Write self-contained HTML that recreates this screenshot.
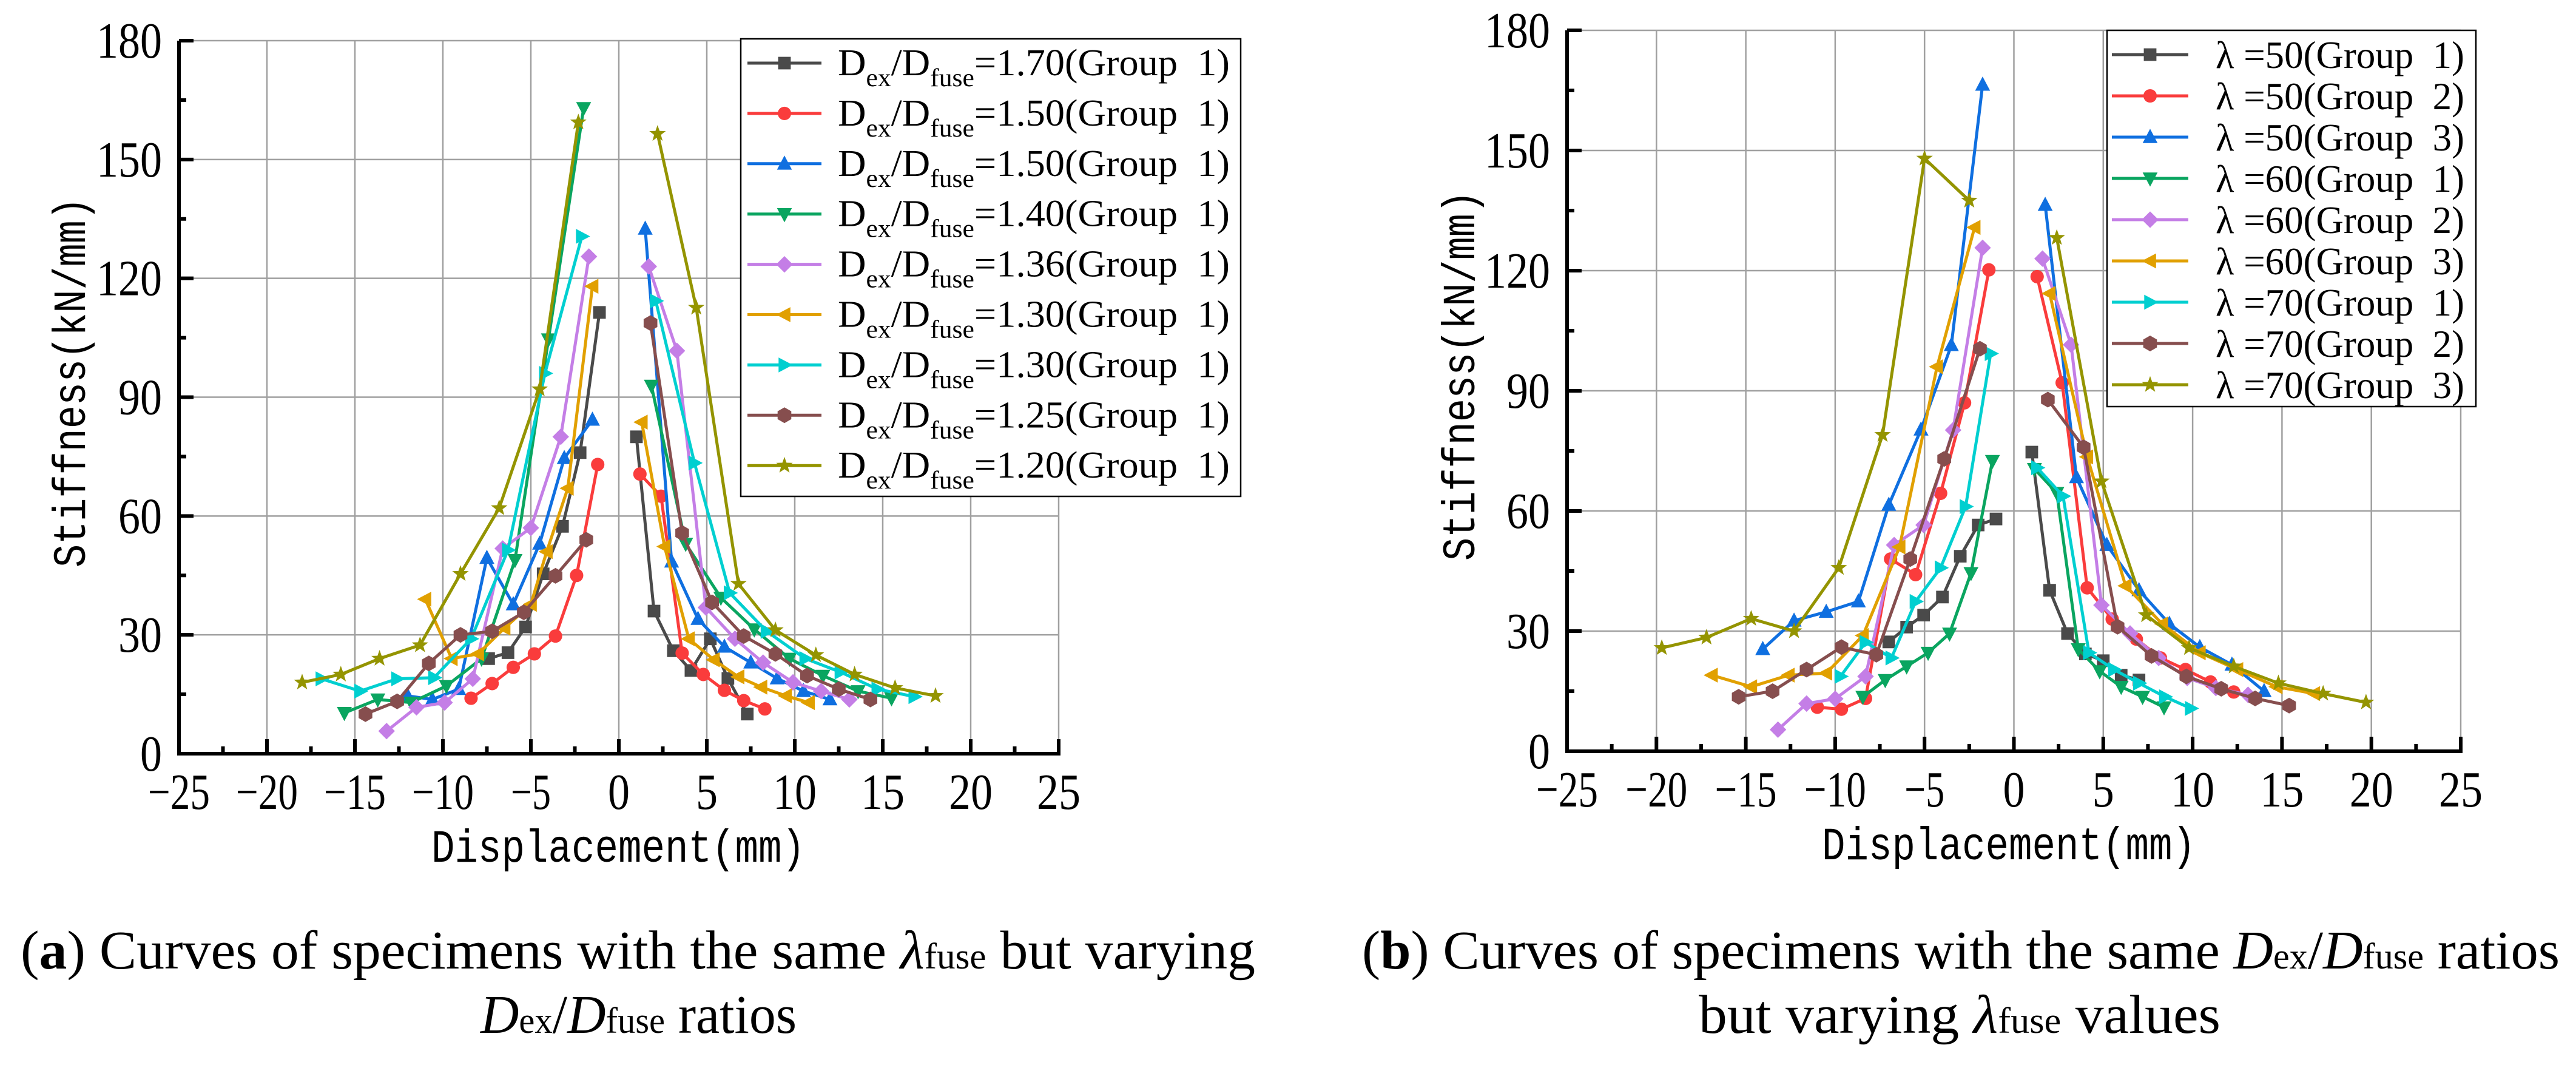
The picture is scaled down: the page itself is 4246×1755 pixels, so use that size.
<!DOCTYPE html>
<html><head><meta charset="utf-8"><style>
html,body{margin:0;padding:0;background:#fff}
svg{display:block}
</style></head><body>
<svg id="fig" width="4246" height="1755" viewBox="0 0 4246 1755" xmlns="http://www.w3.org/2000/svg">
<rect width="4246" height="1755" fill="#fff"/>
<g id="pa"></g>
<g id="pb"></g>
<g font-family="Liberation Serif, serif" font-size="90" fill="#000">
<text x="34" y="1596" textLength="2035" lengthAdjust="spacingAndGlyphs">(<tspan font-weight="bold">a</tspan>) Curves of specimens with the same <tspan font-style="italic">λ</tspan><tspan font-size="60">fuse</tspan> but varying</text>
<text x="792" y="1702" textLength="521" lengthAdjust="spacingAndGlyphs"><tspan font-style="italic">D</tspan><tspan font-size="60">ex</tspan>/<tspan font-style="italic">D</tspan><tspan font-size="60">fuse</tspan> ratios</text>
</g>
<g font-family="Liberation Serif, serif" font-size="90" fill="#000">
<text x="2245" y="1596" textLength="1974" lengthAdjust="spacingAndGlyphs">(<tspan font-weight="bold">b</tspan>) Curves of specimens with the same <tspan font-style="italic">D</tspan><tspan font-size="60">ex</tspan>/<tspan font-style="italic">D</tspan><tspan font-size="60">fuse</tspan> ratios</text>
<text x="2800" y="1702" textLength="860" lengthAdjust="spacingAndGlyphs">but varying <tspan font-style="italic">λ</tspan><tspan font-size="60">fuse</tspan> values</text>
</g>
</svg>
<script>
// ---- shared axis data ----
const xTicks = [-25,-20,-15,-10,-5,0,5,10,15,20,25];
const yTicks = [0,30,60,90,120,150,180];

// ---- chart (a) data: null separates left/right branch ----
const a1x=[-7.4,-6.3,-5.3,-4.3,-3.2,-2.2,-1.1,null,1.0,2.0,3.1,4.1,5.2,6.2,7.3];
const a1y=[24,25.5,32,45.4,57.4,76,111.4,null,80,36,26,21,29,19,10];
const a2x=[-8.4,-7.2,-6.0,-4.8,-3.6,-2.4,-1.2,null,1.2,2.4,3.6,4.8,6.0,7.1,8.3];
const a2y=[14,17.7,21.8,25.2,29.7,45,73,null,70.6,65,25.4,20,16,13.4,11.3];
const a3x=[-12.0,-10.6,-9.1,-7.5,-6.0,-4.5,-3.1,-1.5,null,1.5,3.0,4.5,6.0,7.5,9.0,10.5,12.0];
const a3y=[14.6,13.7,16.3,49.4,37.7,53,74.6,84.3,null,132.5,48.5,34,27,23,19,15.8,13.7];
const a4x=[-15.6,-13.7,-11.8,-9.8,-7.8,-5.9,-4.0,-2.0,null,1.85,3.8,5.8,7.7,9.7,11.6,13.6,15.5];
const a4y=[10.3,13.7,12.9,17.1,24,48.9,104.6,163,null,92.9,53,39.4,31.4,24,19.7,15.8,14];
const a5x=[-13.2,-11.5,-9.9,-8.3,-6.6,-5.0,-3.3,-1.7,null,1.7,3.3,4.95,6.6,8.2,9.9,11.5,13.1];
const a5y=[5.7,11.7,12.9,18.9,51.8,57,80,125.5,null,123,101.7,36.9,29,23,18,15.8,13.7];
const a6x=[-11.0,-9.5,-8.0,-6.5,-5.0,-4.1,-2.9,-1.5,null,1.3,2.6,3.98,5.4,6.8,8.1,9.5,10.8];
const a6y=[39,24,25.2,31.7,37.7,51,67,118,null,83.7,52.3,29,23.7,19.4,16.8,14.6,12.9];
const a7x=[-16.9,-14.7,-12.6,-10.5,-8.4,-6.3,-4.2,-2.1,null,2.1,4.3,6.3,8.4,10.6,12.6,14.7,16.8];
const a7y=[18.9,15.8,18.9,19.2,29,51.4,96,130.6,null,114.3,73.4,40.6,30.9,24,20.6,16.3,14.4];
const a8x=[-14.4,-12.6,-10.8,-9.0,-7.2,-5.4,-3.6,-1.85,null,1.8,3.6,5.3,7.1,8.9,10.7,12.5,14.3];
const a8y=[10,13.2,22.8,30,30.9,35.7,44.9,54,null,108.7,55.7,38.2,29.7,25.2,19.7,16.3,13.7];
const a9x=[-18.0,-15.8,-13.6,-11.3,-9.0,-6.8,-4.5,-2.3,null,2.2,4.4,6.8,8.9,11.2,13.4,15.7,18.0];
const a9y=[18,20,24,27.4,45.4,62,92,159.4,null,156.5,112.6,42.9,31.2,24.9,20,16.6,14.6];
const aLabels=["1.70","1.50","1.50","1.40","1.36","1.30","1.30","1.25","1.20"];

// ---- chart (b) data ----
const b1x=[-7.0,-6.0,-5.05,-4.0,-3.0,-2.0,-1.0,null,1.0,2.0,3.0,4.0,5.0,6.0,7.0];
const b1y=[27.3,31,34,38.5,48.7,56.5,58,null,74.7,40.2,29.4,24.3,22.6,19,17.8];
const b2x=[-11.0,-9.65,-8.3,-6.9,-5.5,-4.1,-2.76,-1.4,null,1.3,2.7,4.1,5.5,6.85,8.2,9.6,11.0,12.3];
const b2y=[11,10.5,13.2,48,44.1,64.4,87,120.2,null,118.5,92,40.8,33,28,23.3,20.4,17.3,14.8];
const b3x=[-14.05,-12.3,-10.5,-8.7,-7.0,-5.2,-3.5,-1.75,null,1.75,3.5,5.2,7.0,8.7,10.4,12.2,14.0];
const b3y=[25.5,32.6,34.8,37.4,61.5,80.3,101.4,166.4,null,136.4,68.4,51.5,40.2,31.8,26,21.6,15];
const b4x=[-8.45,-7.2,-6.0,-4.8,-3.6,-2.4,-1.2,null,1.15,2.4,3.6,4.8,6.0,7.2,8.4];
const b4y=[13.6,17.8,21.2,24.6,29.4,44.5,72.5,null,70.5,64.5,25.5,20,16.1,13.6,11];
const b5x=[-13.2,-11.6,-10.0,-8.3,-6.7,-5.05,-3.4,-1.75,null,1.6,3.2,4.9,6.5,8.1,9.7,11.3,13.1];
const b5y=[5.4,11.9,13.1,18.7,51.5,56.5,80.2,125.7,null,123,101.5,36.5,29.4,23.3,18.3,15.8,14.1];
const b6x=[-16.9,-14.7,-12.6,-10.5,-8.45,-6.4,-4.3,-2.2,null,2.0,4.1,6.25,8.3,10.4,12.5,14.7,16.8];
const b6y=[19,16.1,19,19.5,28.9,51,96,130.8,null,114.3,73.5,41.3,31.8,24.6,20.4,16.1,14.4];
const b7x=[-9.7,-8.3,-6.85,-5.5,-4.1,-2.7,-1.3,null,1.3,2.75,4.2,5.6,7.0,8.45,9.9];
const b7y=[18.7,27.2,23.3,37.4,45.8,61.1,99.3,null,70.8,63.7,24.6,20.4,17,13.6,10.7];
const b8x=[-15.4,-13.5,-11.6,-9.65,-7.7,-5.8,-3.9,-1.9,null,1.9,3.9,5.8,7.7,9.65,11.6,13.5,15.4];
const b8y=[13.6,15,20.4,26,24.1,48,73,100.5,null,87.8,75.9,31.1,23.8,18.7,15.6,13.2,11.4];
const b9x=[-19.7,-17.2,-14.7,-12.3,-9.8,-7.35,-5.0,-2.5,null,2.4,4.9,7.4,9.8,12.3,14.8,17.3,19.7];
const b9y=[25.8,28.4,33.1,30,45.8,79,148,137.5,null,128.2,67.4,34,25.8,21.2,17,14.4,12.2];
const bLam=["50","50","50","60","60","60","70","70","70"];
const bGrp=["1","2","3","1","2","3","1","2","3"];

const colors=["#4a4a4a","#fa3c3c","#0f6fe0","#0aa560","#c47ee6","#e1a000","#00cfd0","#864e4e","#949400"];
const markers=["square","circle","up","down","diamond","left","right","hex","star"];

const NS="http://www.w3.org/2000/svg";
function mk(tag,attrs,parent){const e=document.createElementNS(NS,tag);for(const k in attrs)e.setAttribute(k,attrs[k]);if(parent)parent.appendChild(e);return e;}

function markerPath(type,cx,cy,s){
  const p=(pts)=>'M'+pts.map(q=>(cx+q[0]*s).toFixed(1)+','+(cy+q[1]*s).toFixed(1)).join('L')+'Z';
  switch(type){
    case 'square':return p([[-0.8,-0.8],[0.8,-0.8],[0.8,0.8],[-0.8,0.8]]);
    case 'up':return p([[0,-1.05],[0.95,0.75],[-0.95,0.75]]);
    case 'down':return p([[0,1.05],[0.95,-0.75],[-0.95,-0.75]]);
    case 'left':return p([[-1.05,0],[0.75,-0.95],[0.75,0.95]]);
    case 'right':return p([[1.05,0],[-0.75,-0.95],[-0.75,0.95]]);
    case 'diamond':return p([[0,-1.05],[1.05,0],[0,1.05],[-1.05,0]]);
    case 'hex':{const a=[];for(let i=0;i<6;i++){const t=Math.PI/6+i*Math.PI/3;a.push([Math.cos(t),Math.sin(t)]);}return p(a);}
    case 'star':{const a=[];for(let i=0;i<10;i++){const r=i%2?0.45:1.1;const t=-Math.PI/2+i*Math.PI/5;a.push([r*Math.cos(t),r*Math.sin(t)]);}return p(a);}
  }
  return '';
}
function drawMarker(g,type,cx,cy,s,col){
  if(type==='circle'){return mk('circle',{cx:cx,cy:cy,r:s*0.85,fill:col},g);}
  return mk('path',{d:markerPath(type,cx,cy,s),fill:col},g);
}

function drawChart(root,cfg,seriesX,seriesY){
  const X=v=>cfg.x0+(v+25)/50*(cfg.x1-cfg.x0);
  const Y=v=>cfg.y0-v/180*(cfg.y0-cfg.y1);
  const grid=mk('g',{},root);
  
  
  xTicks.forEach(t=>{if(t>-25)mk('line',{x1:X(t),x2:X(t),y1:cfg.y0,y2:cfg.y1,stroke:'#a0a0a0','stroke-width':2.5},grid);});
  yTicks.forEach(t=>{if(t>0)mk('line',{x1:cfg.x0,x2:cfg.x1,y1:Y(t),y2:Y(t),stroke:'#a0a0a0','stroke-width':2.5},grid);});
  const ax=mk('g',{stroke:'#000','stroke-width':6},root);
  
  
  mk('line',{x1:cfg.x0,x2:cfg.x1+3,y1:cfg.y0,y2:cfg.y0},ax);
  mk('line',{x1:cfg.x0,x2:cfg.x0,y1:cfg.y0+3,y2:cfg.y1},ax);
  for(let v=-25;v<=25;v+=2.5){const maj=(v%5===0);mk('line',{x1:X(v),x2:X(v),y1:cfg.y0,y2:cfg.y0-(maj?24:12)},ax);}
  for(let v=0;v<=180;v+=15){const maj=(v%30===0);mk('line',{x1:cfg.x0,x2:cfg.x0+(maj?24:12),y1:Y(v),y2:Y(v)},ax);}
  const tl=mk('g',{'font-family':'Liberation Serif, serif','font-size':84,fill:'#000'},root);
  
  
  const tw=t=>String(Math.abs(t)).length*36+(t<0?30:0);
  xTicks.forEach(t=>{const e=mk('text',{x:X(t),y:cfg.y0+91,'text-anchor':'middle',textLength:tw(t),lengthAdjust:'spacingAndGlyphs'},tl);e.textContent=(t<0?'\u2212':'')+Math.abs(t);
    
    });
  yTicks.forEach(t=>{const e=mk('text',{x:cfg.x0-28,y:Y(t)+28,'text-anchor':'end',textLength:tw(t),lengthAdjust:'spacingAndGlyphs'},tl);e.textContent=t;
    
    });
  const xt=mk('text',{x:cfg.xtX,y:cfg.xtY,'font-family':'Liberation Mono, monospace','font-size':76,textLength:616,lengthAdjust:'spacingAndGlyphs','text-anchor':'middle'},root);
  xt.textContent='Displacement(mm)';
  
  
  const yt=mk('text',{x:0,y:0,'font-family':'Liberation Mono, monospace','font-size':76,textLength:610,lengthAdjust:'spacingAndGlyphs','text-anchor':'middle',transform:`translate(${cfg.ytX},${cfg.ytY}) rotate(-90)`},root);
  yt.textContent='Stiffness(kN/mm)';
  
  
  seriesX.forEach((xs,i)=>{
    const ys=seriesY[i];
    const g=mk('g',{},root);
    
    
    let d='',pen=false;
    xs.forEach((v,j)=>{if(v===null){pen=false;return;}d+=(pen?'L':'M')+X(v).toFixed(1)+','+Y(ys[j]).toFixed(1);pen=true;});
    mk('path',{d:d,fill:'none',stroke:colors[i],'stroke-width':5,'stroke-linejoin':'round'},g);
    xs.forEach((v,j)=>{if(v===null)return;const m=drawMarker(g,markers[i],X(v),Y(ys[j]),13,colors[i]);
      
      });
  });
}

function drawLegend(root,L,labelFn){
  const g=mk('g',{},root);
  
  
  mk('rect',{x:L.x,y:L.y,width:L.w,height:L.h,fill:'#fff',stroke:'#000','stroke-width':2.5},g);
  for(let i=0;i<9;i++){
    const cy=L.c0+i*L.step;
    const e=mk('g',{},g);
    
    
    mk('line',{x1:L.lx0,x2:L.lx1,y1:cy,y2:cy,stroke:colors[i],'stroke-width':5},e);
    drawMarker(e,markers[i],(L.lx0+L.lx1)/2,cy,13,colors[i]);
    const t=mk('text',{x:L.tx,y:cy+L.bo,'font-family':'Liberation Serif, serif','font-size':L.fs,textLength:L.tw,lengthAdjust:'spacingAndGlyphs'},e);
    t.innerHTML=labelFn(i);
  }
}

drawChart(document.getElementById('pa'),{x0:295,x1:1745,y0:1242,y1:67,xtX:1019,xtY:1420,ytX:140,ytY:630},
  [a1x,a2x,a3x,a4x,a5x,a6x,a7x,a8x,a9x],[a1y,a2y,a3y,a4y,a5y,a6y,a7y,a8y,a9y]);
drawLegend(document.getElementById('pa'),{x:1221,y:64,w:824,h:754,c0:104,step:82.9,lx0:1232,lx1:1354,tx:1381,bo:20,fs:62,tw:646},
  i=>'D<tspan font-size="42" dy="18">ex</tspan><tspan dy="-18">/D</tspan><tspan font-size="42" dy="18">fuse</tspan><tspan dy="-18">='+aLabels[i]+'(Group\u00a0\u00a01)</tspan>');

drawChart(document.getElementById('pb'),{x0:2583,x1:4056,y0:1238,y1:50,xtX:3311,xtY:1416,ytX:2430,ytY:619},
  [b1x,b2x,b3x,b4x,b5x,b6x,b7x,b8x,b9x],[b1y,b2y,b3y,b4y,b5y,b6y,b7y,b8y,b9y]);
drawLegend(document.getElementById('pb'),{x:3473,y:50,w:608,h:620,c0:90,step:68,lx0:3481,lx1:3607,tx:3652,bo:22,fs:64,tw:410},
  i=>'λ\u00a0='+bLam[i]+'(Group\u00a0\u00a0'+bGrp[i]+')');
</script>
</body></html>
